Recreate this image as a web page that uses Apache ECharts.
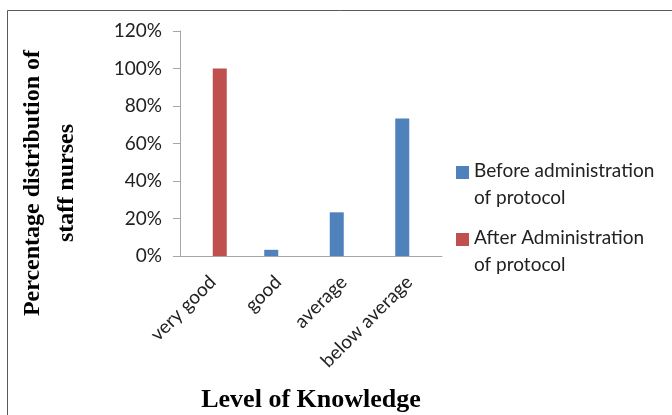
<!DOCTYPE html>
<html>
<head>
<meta charset="utf-8">
<script src="https://cdn.jsdelivr.net/npm/echarts@6/dist/echarts.min.js"></script>
<style>
  html, body { margin: 0; padding: 0; background: #fff; }
  #chart { width: 672px; height: 415px; }
</style>
</head>
<body>
<div id="chart"></div>
<script>
// Knowledge levels of staff nurses before and after the protocol
var categories = ['very good', 'good', 'average', 'below average'];
var beforeValues = [0, 3.3, 23.3, 73.3];
var afterValues = [100, 0, 0, 0];
var seriesNames = ['Before administration\nof protocol', 'After Administration\nof protocol'];
var seriesColors = ['#4F81BD', '#C0504D'];
var yTicks = { min: 0, max: 120, step: 20 };

var labelFont = 'Lato, "Open Sans", sans-serif';
var titleFont = '"Liberation Serif", "DejaVu Serif", serif';

var chart = echarts.init(document.getElementById('chart'), null, { renderer: 'canvas' });

// Legend drawn as graphic rows: swatch beside the first line of each two-line name
var legendRows = seriesNames.map(function (name, i) {
  return {
    type: 'group',
    x: 456,
    y: 166 + i * 67,
    children: [
      { type: 'rect', shape: { x: 0, y: 0, width: 13, height: 13 }, style: { fill: seriesColors[i] } },
      { type: 'text', x: 18, y: -9,
        style: { text: name, font: '19px ' + labelFont, fill: '#222', lineHeight: 27,
                 verticalAlign: 'top' } }
    ]
  };
});

chart.setOption({
  animation: false,
  backgroundColor: '#fff',
  grid: { left: 180, top: 31, width: 262, height: 225, containLabel: false },
  xAxis: {
    type: 'category',
    data: categories,
    axisLine: { lineStyle: { color: '#a6a6a6', width: 1 } },
    axisTick: { show: false },
    axisLabel: { rotate: 45, margin: 23, color: '#222', fontSize: 19, fontFamily: labelFont, interval: 0 }
  },
  yAxis: {
    type: 'value',
    min: yTicks.min,
    max: yTicks.max,
    interval: yTicks.step,
    splitLine: { show: false },
    axisLine: { show: true, lineStyle: { color: '#a6a6a6', width: 1 } },
    axisTick: { show: true, length: 7, lineStyle: { color: '#a6a6a6' } },
    axisLabel: { formatter: '{value}%', margin: 18, color: '#222', fontSize: 19, fontFamily: labelFont }
  },
  series: [
    { name: seriesNames[0], type: 'bar', data: beforeValues, barWidth: 14, barGap: '0%',
      itemStyle: { color: seriesColors[0] } },
    { name: seriesNames[1], type: 'bar', data: afterValues, barWidth: 14, barGap: '0%',
      itemStyle: { color: seriesColors[1] } }
  ],
  graphic: [
    // chart frame
    { type: 'rect', shape: { x: 7.5, y: 10.5, width: 700, height: 420 },
      style: { fill: null, stroke: '#595959', lineWidth: 1 }, silent: true },
    // y-axis title
    { type: 'text', x: 50, y: 183, rotation: Math.PI / 2,
      style: { text: 'Percentage distribution of\nstaff nurses', font: 'bold 24px ' + titleFont,
               fill: '#000', align: 'center', verticalAlign: 'middle', lineHeight: 34 } },
    // x-axis title
    { type: 'text', x: 311, y: 400,
      style: { text: 'Level of Knowledge', font: 'bold 26px ' + titleFont,
               fill: '#000', align: 'center', verticalAlign: 'middle' } }
  ].concat(legendRows)
});
</script>
</body>
</html>
